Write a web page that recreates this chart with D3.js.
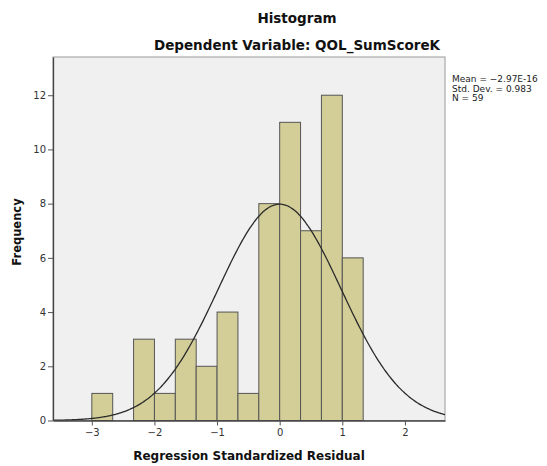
<!DOCTYPE html>
<html>
<head>
<meta charset="utf-8">
<script src="https://cdn.jsdelivr.net/npm/d3@7"></script>
<style>
  html, body { margin: 0; padding: 0; background: #ffffff; }
  svg { display: block; }
  text { font-family: "DejaVu Sans", "Liberation Sans", sans-serif; }
</style>
</head>
<body>
<svg id="chart" width="547" height="466"></svg>
<script>
// Histogram of regression standardized residuals (bin width 1/3)
const binStarts = [-3, -8/3, -7/3, -2, -5/3, -4/3, -1, -2/3, -1/3, 0, 1/3, 2/3, 1];
const binWidth = 1/3;
const counts = [1, 0, 3, 1, 3, 2, 4, 1, 8, 11, 7, 12, 6];
const xTicks = [-3, -2, -1, 0, 1, 2];
const yTicks = [0, 2, 4, 6, 8, 10, 12];
const stats = { mean: -2.97e-16, sd: 0.983, n: 59 };
const statLines = ["Mean = \u22122.97E-16", "Std. Dev. = 0.983", "N = 59"];

const svg = d3.select("#chart");
const plotL = 53, plotR = 445, plotT = 57, plotB = 420.5;

const x = d3.scaleLinear().domain([-3.62, 2.64]).range([plotL, plotR]);
const y = d3.scaleLinear().domain([0, 13.41]).range([plotB, plotT]);

// plot background and frame
svg.append("rect")
  .attr("x", plotL).attr("y", plotT)
  .attr("width", plotR - plotL).attr("height", plotB - plotT)
  .attr("fill", "#f0f0f0")
  .attr("stroke", "#9a9a9a").attr("stroke-width", 1);

// bars
const bins = binStarts.map((s, i) => ({ x0: s, x1: s + binWidth, n: counts[i] })).filter(d => d.n > 0);
svg.append("g").selectAll("rect").data(bins).join("rect")
  .attr("x", d => x(d.x0))
  .attr("y", d => y(d.n))
  .attr("width", d => x(d.x1) - x(d.x0))
  .attr("height", d => y(0) - y(d.n))
  .attr("fill", "#d3ce98")
  .attr("stroke", "#555555")
  .attr("stroke-width", 1);

// normal curve scaled to counts
const pts = d3.range(-3.62, 2.641, 0.02).map(v => {
  const z = (v - stats.mean) / stats.sd;
  const dens = Math.exp(-0.5 * z * z) / (stats.sd * Math.sqrt(2 * Math.PI));
  return [v, dens * stats.n * binWidth];
});
svg.append("path")
  .datum(pts)
  .attr("fill", "none")
  .attr("stroke", "#2b2b2b")
  .attr("stroke-width", 1.3)
  .attr("d", d3.line().x(d => x(d[0])).y(d => y(d[1])).curve(d3.curveBasis));

// axes
const fmt = d => d < 0 ? "\u2212" + Math.abs(d) : String(d);
const xAxis = svg.append("g")
  .attr("transform", `translate(0,${plotB})`)
  .call(d3.axisBottom(x).tickValues(xTicks).tickFormat(fmt).tickSize(5).tickPadding(3).tickSizeOuter(0));
const yAxis = svg.append("g")
  .attr("transform", `translate(${plotL},0)`)
  .call(d3.axisLeft(y).tickValues(yTicks).tickFormat(fmt).tickSize(5).tickPadding(2).tickSizeOuter(0));
[xAxis, yAxis].forEach(g => {
  g.select(".domain").attr("stroke", "#444").attr("stroke-width", 1.3);
  g.selectAll(".tick line").attr("stroke", "#555");
  g.selectAll(".tick text").attr("fill", "#333").attr("font-size", 10);
});

// titles
svg.append("text").attr("x", 297).attr("y", 23)
  .attr("text-anchor", "middle").attr("font-size", 13.5).attr("font-weight", "bold")
  .attr("fill", "#111").text("Histogram");
svg.append("text").attr("x", 297).attr("y", 50)
  .attr("text-anchor", "middle").attr("font-size", 13.5).attr("font-weight", "bold")
  .attr("fill", "#111").text("Dependent Variable: QOL_SumScoreK");
svg.append("text").attr("x", 249).attr("y", 460)
  .attr("text-anchor", "middle").attr("font-size", 12).attr("font-weight", "bold")
  .attr("fill", "#111").text("Regression Standardized Residual");
svg.append("text")
  .attr("transform", "translate(21,232) rotate(-90)")
  .attr("text-anchor", "middle").attr("font-size", 11.5).attr("font-weight", "bold")
  .attr("fill", "#111").text("Frequency");

// summary statistics
svg.append("g").selectAll("text").data(statLines).join("text")
  .attr("x", 452).attr("y", (d, i) => 82 + i * 9.5)
  .attr("font-size", 9).attr("fill", "#222")
  .text(d => d);
</script>
</body>
</html>
